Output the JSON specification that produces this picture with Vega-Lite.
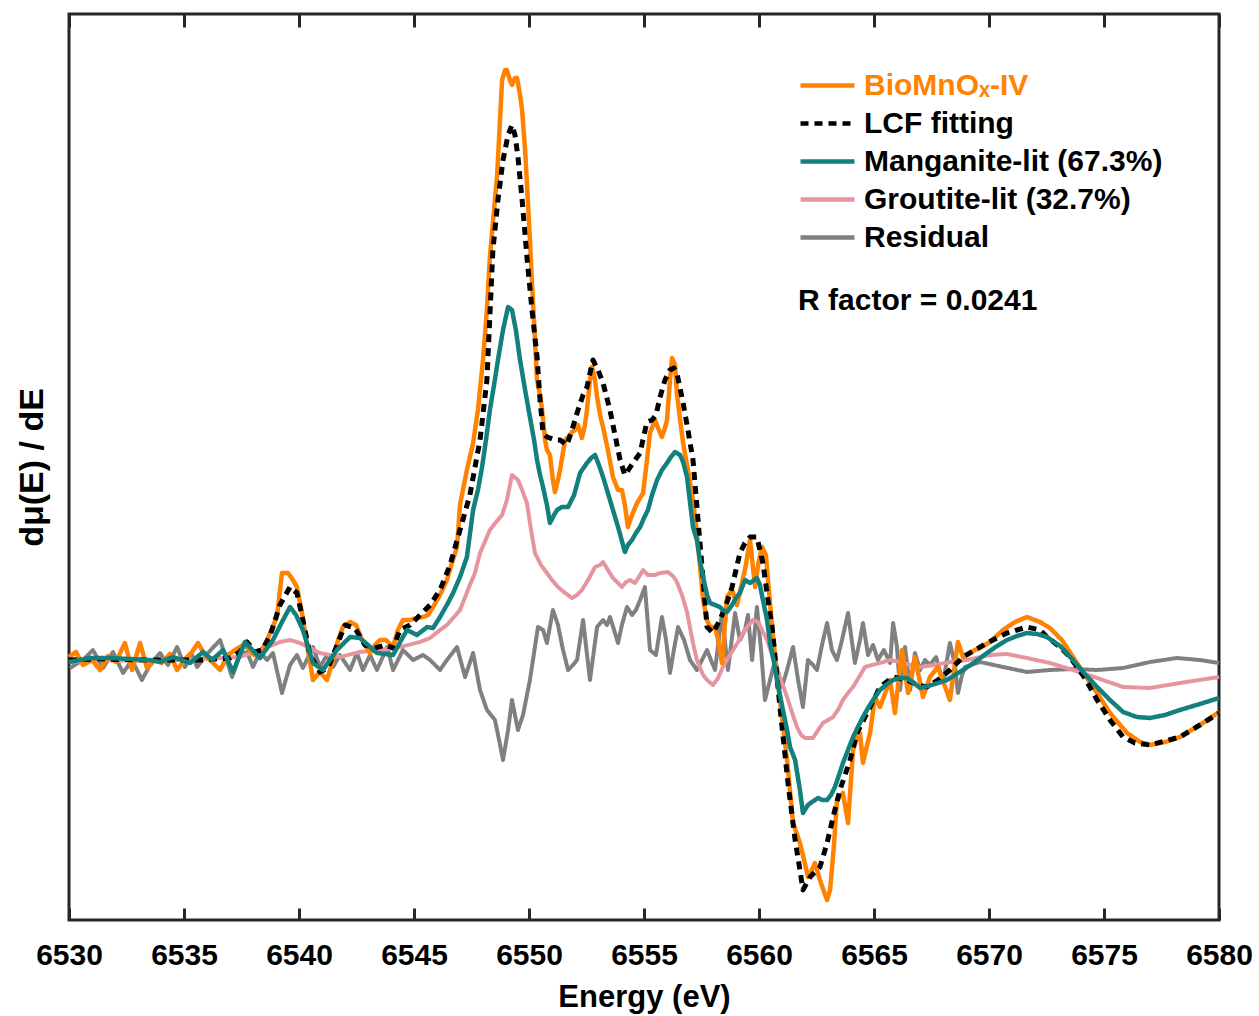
{
  "$schema": "https://vega.github.io/schema/vega-lite/v6.json",
  "width": 1150,
  "height": 906,
  "autosize": {"type": "none"},
  "padding": {"left": 69, "top": 14, "right": 40, "bottom": 96},
  "background": "white",
  "config": {
    "view": {"stroke": "#262626", "strokeWidth": 3},
    "font": "Liberation Sans",
    "axis": {"grid": false},
    "legend": {
      "orient": "none",
      "legendX": 736,
      "legendY": 49,
      "title": null,
      "labelFont": "Liberation Sans",
      "labelFontSize": 30,
      "labelFontWeight": "bold",
      "labelColor": "#000000",
      "labelLimit": 0,
      "labelOffset": 14,
      "symbolType": "M-1.35,0H1.35",
      "symbolSize": 1600,
      "symbolStrokeWidth": 4.5,
      "rowPadding": 0,
      "padding": 0
    }
  },
  "datasets": {
    "O": [
      {"E":6530.00,"v":3},{"E":6530.30,"v":8},{"E":6530.61,"v":-5},{"E":6531.00,"v":0},{"E":6531.35,"v":-10},{"E":6531.70,"v":4},{"E":6532.04,"v":-2},{"E":6532.43,"v":17},{"E":6532.74,"v":-10},{"E":6533.09,"v":17},{"E":6533.39,"v":-8},{"E":6533.74,"v":0},{"E":6534.04,"v":-3},{"E":6534.39,"v":6},{"E":6534.70,"v":-10},{"E":6535.09,"v":2},{"E":6535.35,"v":8},{"E":6535.61,"v":17},{"E":6535.91,"v":5},{"E":6536.22,"v":-2},{"E":6536.57,"v":-10},{"E":6536.91,"v":5},{"E":6537.22,"v":10},{"E":6537.57,"v":15},{"E":6537.78,"v":12},{"E":6538.04,"v":5},{"E":6538.30,"v":8},{"E":6538.52,"v":15},{"E":6538.74,"v":27},{"E":6539.04,"v":43},{"E":6539.26,"v":87},{"E":6539.52,"v":87},{"E":6539.74,"v":80},{"E":6539.91,"v":73},{"E":6540.13,"v":47},{"E":6540.35,"v":15},{"E":6540.61,"v":-20},{"E":6540.91,"v":-12},{"E":6541.22,"v":-20},{"E":6541.48,"v":0},{"E":6541.70,"v":20},{"E":6541.91,"v":33},{"E":6542.22,"v":38},{"E":6542.48,"v":35},{"E":6542.74,"v":20},{"E":6543.09,"v":7},{"E":6543.30,"v":15},{"E":6543.52,"v":20},{"E":6543.78,"v":20},{"E":6544.09,"v":13},{"E":6544.30,"v":30},{"E":6544.52,"v":40},{"E":6544.83,"v":40},{"E":6545.13,"v":42},{"E":6545.39,"v":43},{"E":6545.61,"v":45},{"E":6545.83,"v":53},{"E":6546.13,"v":65},{"E":6546.43,"v":80},{"E":6546.65,"v":97},{"E":6546.87,"v":113},{"E":6547.00,"v":155},{"E":6547.30,"v":190},{"E":6547.57,"v":217},{"E":6547.78,"v":250},{"E":6548.00,"v":300},{"E":6548.17,"v":350},{"E":6548.30,"v":403},{"E":6548.48,"v":450},{"E":6548.61,"v":483},{"E":6548.74,"v":540},{"E":6548.83,"v":580},{"E":6548.96,"v":590},{"E":6549.04,"v":590},{"E":6549.17,"v":580},{"E":6549.26,"v":575},{"E":6549.39,"v":582},{"E":6549.48,"v":582},{"E":6549.61,"v":565},{"E":6549.70,"v":550},{"E":6549.83,"v":510},{"E":6549.91,"v":477},{"E":6550.04,"v":420},{"E":6550.13,"v":377},{"E":6550.26,"v":320},{"E":6550.35,"v":280},{"E":6550.48,"v":265},{"E":6550.57,"v":250},{"E":6550.70,"v":220},{"E":6550.78,"v":210},{"E":6550.91,"v":205},{"E":6551.04,"v":180},{"E":6551.13,"v":168},{"E":6551.26,"v":180},{"E":6551.35,"v":190},{"E":6551.48,"v":208},{"E":6551.57,"v":220},{"E":6551.70,"v":223},{"E":6551.87,"v":228},{"E":6552.00,"v":230},{"E":6552.13,"v":235},{"E":6552.30,"v":222},{"E":6552.43,"v":235},{"E":6552.52,"v":250},{"E":6552.65,"v":280},{"E":6552.74,"v":293},{"E":6552.87,"v":280},{"E":6552.96,"v":263},{"E":6553.09,"v":245},{"E":6553.22,"v":233},{"E":6553.43,"v":210},{"E":6553.65,"v":183},{"E":6553.87,"v":170},{"E":6554.04,"v":170},{"E":6554.17,"v":155},{"E":6554.30,"v":133},{"E":6554.48,"v":145},{"E":6554.70,"v":157},{"E":6554.83,"v":162},{"E":6554.96,"v":167},{"E":6555.13,"v":200},{"E":6555.26,"v":227},{"E":6555.48,"v":240},{"E":6555.61,"v":232},{"E":6555.78,"v":223},{"E":6555.91,"v":232},{"E":6556.00,"v":240},{"E":6556.13,"v":280},{"E":6556.22,"v":302},{"E":6556.35,"v":295},{"E":6556.43,"v":267},{"E":6556.57,"v":240},{"E":6556.70,"v":217},{"E":6556.91,"v":190},{"E":6557.13,"v":160},{"E":6557.30,"v":127},{"E":6557.43,"v":95},{"E":6557.57,"v":60},{"E":6557.74,"v":40},{"E":6557.87,"v":33},{"E":6558.09,"v":33},{"E":6558.22,"v":20},{"E":6558.39,"v":-3},{"E":6558.61,"v":63},{"E":6558.83,"v":70},{"E":6559.04,"v":55},{"E":6559.26,"v":77},{"E":6559.43,"v":95},{"E":6559.61,"v":120},{"E":6559.83,"v":73},{"E":6559.96,"v":95},{"E":6560.13,"v":113},{"E":6560.30,"v":105},{"E":6560.43,"v":70},{"E":6560.57,"v":33},{"E":6560.74,"v":-5},{"E":6560.91,"v":-40},{"E":6561.22,"v":-100},{"E":6561.48,"v":-163},{"E":6561.78,"v":-183},{"E":6561.96,"v":-200},{"E":6562.13,"v":-217},{"E":6562.30,"v":-210},{"E":6562.43,"v":-203},{"E":6562.65,"v":-220},{"E":6562.83,"v":-232},{"E":6562.96,"v":-240},{"E":6563.09,"v":-230},{"E":6563.26,"v":-185},{"E":6563.39,"v":-140},{"E":6563.65,"v":-133},{"E":6563.87,"v":-163},{"E":6564.09,"v":-90},{"E":6564.26,"v":-78},{"E":6564.39,"v":-73},{"E":6564.52,"v":-103},{"E":6564.70,"v":-85},{"E":6564.83,"v":-73},{"E":6565.04,"v":-37},{"E":6565.26,"v":-47},{"E":6565.70,"v":-20},{"E":6565.91,"v":-53},{"E":6566.22,"v":10},{"E":6566.48,"v":-33},{"E":6566.78,"v":3},{"E":6567.13,"v":-37},{"E":6567.43,"v":-17},{"E":6567.78,"v":-7},{"E":6568.30,"v":-40},{"E":6568.65,"v":18},{"E":6568.87,"v":3},{"E":6569.39,"v":10},{"E":6569.61,"v":12},{"E":6570.04,"v":18},{"E":6570.61,"v":30},{"E":6571.13,"v":38},{"E":6571.65,"v":43},{"E":6572.22,"v":38},{"E":6572.65,"v":32},{"E":6573.17,"v":20},{"E":6573.65,"v":3},{"E":6574.17,"v":-15},{"E":6574.70,"v":-33},{"E":6575.26,"v":-53},{"E":6576.00,"v":-73},{"E":6576.57,"v":-82},{"E":6577.00,"v":-85},{"E":6577.65,"v":-82},{"E":6578.30,"v":-77},{"E":6579.17,"v":-65},{"E":6580.00,"v":-52}
    ],
    "F": [
      {"E":6530.00,"v":0},{"E":6531.35,"v":1},{"E":6533.52,"v":0},{"E":6535.70,"v":0},{"E":6537.00,"v":2},{"E":6537.43,"v":8},{"E":6537.74,"v":18},{"E":6538.09,"v":8},{"E":6538.39,"v":10},{"E":6538.74,"v":24},{"E":6539.17,"v":55},{"E":6539.61,"v":73},{"E":6539.91,"v":67},{"E":6540.17,"v":40},{"E":6540.48,"v":5},{"E":6540.91,"v":-12},{"E":6541.26,"v":-8},{"E":6541.57,"v":10},{"E":6542.00,"v":35},{"E":6542.43,"v":32},{"E":6542.87,"v":15},{"E":6543.30,"v":12},{"E":6543.74,"v":15},{"E":6544.09,"v":12},{"E":6544.39,"v":30},{"E":6544.83,"v":35},{"E":6545.26,"v":45},{"E":6545.70,"v":55},{"E":6546.13,"v":70},{"E":6546.57,"v":95},{"E":6547.00,"v":130},{"E":6547.43,"v":165},{"E":6547.87,"v":220},{"E":6548.17,"v":280},{"E":6548.43,"v":410},{"E":6548.65,"v":460},{"E":6548.87,"v":500},{"E":6549.09,"v":525},{"E":6549.26,"v":535},{"E":6549.39,"v":525},{"E":6549.52,"v":503},{"E":6549.70,"v":460},{"E":6549.91,"v":403},{"E":6550.13,"v":350},{"E":6550.35,"v":303},{"E":6550.48,"v":260},{"E":6550.61,"v":227},{"E":6550.78,"v":223},{"E":6550.91,"v":222},{"E":6551.13,"v":220},{"E":6551.35,"v":220},{"E":6551.65,"v":215},{"E":6551.87,"v":230},{"E":6552.09,"v":247},{"E":6552.35,"v":265},{"E":6552.52,"v":273},{"E":6552.78,"v":300},{"E":6553.00,"v":290},{"E":6553.22,"v":277},{"E":6553.52,"v":250},{"E":6553.74,"v":225},{"E":6553.96,"v":200},{"E":6554.17,"v":185},{"E":6554.52,"v":197},{"E":6554.83,"v":207},{"E":6555.00,"v":225},{"E":6555.13,"v":238},{"E":6555.35,"v":240},{"E":6555.52,"v":245},{"E":6555.70,"v":263},{"E":6555.91,"v":280},{"E":6556.13,"v":290},{"E":6556.30,"v":292},{"E":6556.43,"v":287},{"E":6556.70,"v":257},{"E":6556.91,"v":230},{"E":6557.13,"v":200},{"E":6557.35,"v":140},{"E":6557.57,"v":80},{"E":6557.74,"v":33},{"E":6558.00,"v":27},{"E":6558.30,"v":40},{"E":6558.57,"v":55},{"E":6558.83,"v":73},{"E":6559.17,"v":107},{"E":6559.39,"v":117},{"E":6559.61,"v":123},{"E":6559.91,"v":123},{"E":6560.17,"v":97},{"E":6560.39,"v":60},{"E":6560.57,"v":33},{"E":6560.91,"v":-47},{"E":6561.26,"v":-123},{"E":6561.57,"v":-180},{"E":6561.78,"v":-210},{"E":6561.91,"v":-230},{"E":6562.22,"v":-217},{"E":6562.65,"v":-207},{"E":6562.96,"v":-183},{"E":6563.22,"v":-157},{"E":6563.52,"v":-130},{"E":6563.96,"v":-100},{"E":6564.26,"v":-73},{"E":6564.70,"v":-53},{"E":6565.26,"v":-27},{"E":6565.83,"v":-17},{"E":6566.43,"v":-20},{"E":6566.91,"v":-25},{"E":6567.30,"v":-27},{"E":6567.78,"v":-20},{"E":6568.30,"v":-10},{"E":6568.87,"v":3},{"E":6569.39,"v":10},{"E":6569.91,"v":17},{"E":6570.78,"v":27},{"E":6571.65,"v":33},{"E":6572.22,"v":30},{"E":6572.52,"v":23},{"E":6573.09,"v":13},{"E":6573.52,"v":3},{"E":6574.17,"v":-18},{"E":6574.70,"v":-40},{"E":6575.26,"v":-60},{"E":6575.83,"v":-77},{"E":6576.35,"v":-83},{"E":6577.00,"v":-85},{"E":6577.65,"v":-81},{"E":6578.30,"v":-77},{"E":6579.17,"v":-65},{"E":6580.00,"v":-53}
    ],
    "M": [
      {"E":6530.00,"v":-2},{"E":6530.91,"v":2},{"E":6531.78,"v":2},{"E":6532.65,"v":1},{"E":6533.52,"v":0},{"E":6533.96,"v":-2},{"E":6534.52,"v":3},{"E":6535.26,"v":-3},{"E":6535.83,"v":8},{"E":6536.22,"v":0},{"E":6536.70,"v":10},{"E":6537.13,"v":-12},{"E":6537.65,"v":18},{"E":6538.30,"v":2},{"E":6538.87,"v":20},{"E":6539.26,"v":38},{"E":6539.61,"v":53},{"E":6539.87,"v":45},{"E":6540.17,"v":30},{"E":6540.61,"v":-3},{"E":6541.04,"v":-10},{"E":6541.65,"v":10},{"E":6542.22,"v":23},{"E":6542.65,"v":22},{"E":6543.39,"v":7},{"E":6544.09,"v":5},{"E":6544.52,"v":23},{"E":6544.70,"v":30},{"E":6545.13,"v":25},{"E":6545.57,"v":33},{"E":6545.83,"v":32},{"E":6546.13,"v":43},{"E":6546.43,"v":55},{"E":6546.70,"v":67},{"E":6547.00,"v":83},{"E":6547.30,"v":103},{"E":6547.57,"v":150},{"E":6547.78,"v":170},{"E":6547.96,"v":193},{"E":6548.13,"v":220},{"E":6548.30,"v":250},{"E":6548.48,"v":275},{"E":6548.65,"v":300},{"E":6548.87,"v":330},{"E":6549.09,"v":353},{"E":6549.26,"v":350},{"E":6549.43,"v":330},{"E":6549.61,"v":300},{"E":6549.83,"v":270},{"E":6550.04,"v":243},{"E":6550.22,"v":220},{"E":6550.35,"v":200},{"E":6550.48,"v":185},{"E":6550.61,"v":173},{"E":6550.78,"v":155},{"E":6550.91,"v":137},{"E":6551.09,"v":145},{"E":6551.22,"v":150},{"E":6551.43,"v":153},{"E":6551.70,"v":153},{"E":6551.96,"v":165},{"E":6552.22,"v":187},{"E":6552.52,"v":197},{"E":6552.70,"v":202},{"E":6552.87,"v":205},{"E":6553.04,"v":195},{"E":6553.22,"v":183},{"E":6553.43,"v":167},{"E":6553.65,"v":150},{"E":6553.91,"v":130},{"E":6554.17,"v":108},{"E":6554.30,"v":115},{"E":6554.48,"v":120},{"E":6554.65,"v":127},{"E":6554.83,"v":133},{"E":6555.00,"v":142},{"E":6555.17,"v":150},{"E":6555.35,"v":165},{"E":6555.57,"v":180},{"E":6555.78,"v":190},{"E":6556.00,"v":197},{"E":6556.17,"v":203},{"E":6556.35,"v":208},{"E":6556.57,"v":205},{"E":6556.70,"v":198},{"E":6556.87,"v":183},{"E":6557.13,"v":133},{"E":6557.30,"v":120},{"E":6557.43,"v":100},{"E":6557.57,"v":83},{"E":6557.74,"v":65},{"E":6557.87,"v":57},{"E":6558.09,"v":55},{"E":6558.30,"v":53},{"E":6558.43,"v":50},{"E":6558.61,"v":48},{"E":6558.83,"v":55},{"E":6559.00,"v":62},{"E":6559.17,"v":67},{"E":6559.39,"v":80},{"E":6559.61,"v":77},{"E":6559.91,"v":82},{"E":6560.04,"v":75},{"E":6560.17,"v":60},{"E":6560.35,"v":40},{"E":6560.48,"v":17},{"E":6560.65,"v":-2},{"E":6560.78,"v":-20},{"E":6560.91,"v":-35},{"E":6561.04,"v":-50},{"E":6561.22,"v":-70},{"E":6561.35,"v":-87},{"E":6561.57,"v":-100},{"E":6561.78,"v":-130},{"E":6561.91,"v":-153},{"E":6562.13,"v":-145},{"E":6562.30,"v":-142},{"E":6562.57,"v":-138},{"E":6562.74,"v":-140},{"E":6562.96,"v":-140},{"E":6563.13,"v":-135},{"E":6563.30,"v":-127},{"E":6563.48,"v":-115},{"E":6563.65,"v":-103},{"E":6563.87,"v":-90},{"E":6564.09,"v":-77},{"E":6564.30,"v":-67},{"E":6564.52,"v":-57},{"E":6564.74,"v":-48},{"E":6564.96,"v":-40},{"E":6565.26,"v":-30},{"E":6565.57,"v":-24},{"E":6565.83,"v":-20},{"E":6566.13,"v":-18},{"E":6566.43,"v":-18},{"E":6566.74,"v":-23},{"E":6567.00,"v":-28},{"E":6567.35,"v":-26},{"E":6567.65,"v":-24},{"E":6568.17,"v":-20},{"E":6568.52,"v":-15},{"E":6568.87,"v":-10},{"E":6569.39,"v":-2},{"E":6569.91,"v":7},{"E":6570.35,"v":14},{"E":6570.78,"v":20},{"E":6571.22,"v":24},{"E":6571.65,"v":27},{"E":6572.09,"v":26},{"E":6572.52,"v":23},{"E":6573.09,"v":14},{"E":6573.65,"v":0},{"E":6574.17,"v":-14},{"E":6574.70,"v":-27},{"E":6575.26,"v":-40},{"E":6575.83,"v":-52},{"E":6576.43,"v":-57},{"E":6577.00,"v":-58},{"E":6577.65,"v":-55},{"E":6578.30,"v":-50},{"E":6579.17,"v":-44},{"E":6580.00,"v":-38}
    ],
    "G": [
      {"E":6530.00,"v":-2},{"E":6531.35,"v":0},{"E":6533.52,"v":-1},{"E":6535.70,"v":1},{"E":6537.43,"v":3},{"E":6538.30,"v":10},{"E":6539.17,"v":18},{"E":6539.61,"v":20},{"E":6540.04,"v":17},{"E":6540.91,"v":7},{"E":6541.78,"v":3},{"E":6542.65,"v":8},{"E":6543.52,"v":10},{"E":6544.39,"v":13},{"E":6545.26,"v":18},{"E":6545.70,"v":22},{"E":6546.13,"v":30},{"E":6546.43,"v":35},{"E":6546.70,"v":42},{"E":6547.00,"v":50},{"E":6547.43,"v":75},{"E":6547.65,"v":87},{"E":6547.87,"v":107},{"E":6548.30,"v":130},{"E":6548.57,"v":138},{"E":6548.83,"v":145},{"E":6549.04,"v":160},{"E":6549.26,"v":185},{"E":6549.52,"v":180},{"E":6549.70,"v":170},{"E":6549.91,"v":157},{"E":6550.09,"v":130},{"E":6550.26,"v":107},{"E":6550.52,"v":95},{"E":6550.78,"v":87},{"E":6551.00,"v":80},{"E":6551.26,"v":73},{"E":6551.57,"v":67},{"E":6551.87,"v":62},{"E":6552.09,"v":65},{"E":6552.30,"v":70},{"E":6552.57,"v":80},{"E":6552.87,"v":93},{"E":6553.09,"v":95},{"E":6553.22,"v":98},{"E":6553.43,"v":90},{"E":6553.65,"v":82},{"E":6553.87,"v":77},{"E":6554.04,"v":73},{"E":6554.22,"v":78},{"E":6554.39,"v":80},{"E":6554.61,"v":77},{"E":6554.83,"v":85},{"E":6554.96,"v":90},{"E":6555.17,"v":85},{"E":6555.48,"v":85},{"E":6555.70,"v":87},{"E":6556.04,"v":88},{"E":6556.26,"v":84},{"E":6556.43,"v":78},{"E":6556.65,"v":65},{"E":6556.87,"v":48},{"E":6557.13,"v":17},{"E":6557.30,"v":0},{"E":6557.57,"v":-15},{"E":6557.74,"v":-20},{"E":6558.00,"v":-25},{"E":6558.22,"v":-18},{"E":6558.43,"v":-7},{"E":6558.65,"v":2},{"E":6558.87,"v":10},{"E":6559.09,"v":18},{"E":6559.30,"v":27},{"E":6559.52,"v":34},{"E":6559.74,"v":40},{"E":6559.96,"v":38},{"E":6560.13,"v":30},{"E":6560.35,"v":20},{"E":6560.57,"v":5},{"E":6560.78,"v":-10},{"E":6561.00,"v":-23},{"E":6561.22,"v":-37},{"E":6561.43,"v":-52},{"E":6561.65,"v":-67},{"E":6561.83,"v":-75},{"E":6562.00,"v":-78},{"E":6562.35,"v":-78},{"E":6562.57,"v":-70},{"E":6562.78,"v":-63},{"E":6563.00,"v":-60},{"E":6563.22,"v":-57},{"E":6563.43,"v":-50},{"E":6563.65,"v":-40},{"E":6563.87,"v":-33},{"E":6564.09,"v":-27},{"E":6564.35,"v":-17},{"E":6564.61,"v":-7},{"E":6564.91,"v":-5},{"E":6565.26,"v":-3},{"E":6565.70,"v":0},{"E":6566.13,"v":-2},{"E":6566.57,"v":-5},{"E":6567.00,"v":-7},{"E":6567.65,"v":-5},{"E":6568.30,"v":-2},{"E":6569.04,"v":0},{"E":6570.04,"v":5},{"E":6570.78,"v":6},{"E":6571.65,"v":2},{"E":6572.65,"v":-3},{"E":6573.65,"v":-10},{"E":6574.70,"v":-18},{"E":6575.83,"v":-27},{"E":6577.00,"v":-28},{"E":6578.30,"v":-23},{"E":6580.00,"v":-17}
    ],
    "R": [
      {"E":6530.04,"v":-8},{"E":6530.61,"v":0},{"E":6531.04,"v":10},{"E":6531.48,"v":-8},{"E":6531.91,"v":8},{"E":6532.35,"v":-13},{"E":6532.74,"v":0},{"E":6533.17,"v":-20},{"E":6533.52,"v":-5},{"E":6533.96,"v":7},{"E":6534.30,"v":-5},{"E":6534.70,"v":13},{"E":6535.04,"v":-7},{"E":6535.35,"v":5},{"E":6535.57,"v":-7},{"E":6536.04,"v":7},{"E":6536.57,"v":20},{"E":6537.09,"v":-17},{"E":6537.43,"v":5},{"E":6537.74,"v":8},{"E":6538.00,"v":-7},{"E":6538.30,"v":8},{"E":6538.61,"v":0},{"E":6538.87,"v":7},{"E":6539.26,"v":-33},{"E":6539.61,"v":-5},{"E":6539.91,"v":5},{"E":6540.17,"v":-8},{"E":6540.61,"v":13},{"E":6540.91,"v":-7},{"E":6541.22,"v":5},{"E":6541.48,"v":-7},{"E":6541.78,"v":5},{"E":6542.22,"v":-10},{"E":6542.52,"v":7},{"E":6542.78,"v":-10},{"E":6543.09,"v":5},{"E":6543.39,"v":-10},{"E":6543.83,"v":13},{"E":6544.09,"v":-10},{"E":6544.52,"v":10},{"E":6544.96,"v":0},{"E":6545.39,"v":5},{"E":6545.70,"v":0},{"E":6546.13,"v":-10},{"E":6546.43,"v":0},{"E":6546.87,"v":13},{"E":6547.22,"v":-17},{"E":6547.57,"v":7},{"E":6547.87,"v":-30},{"E":6548.17,"v":-50},{"E":6548.52,"v":-60},{"E":6548.70,"v":-80},{"E":6548.87,"v":-100},{"E":6549.09,"v":-70},{"E":6549.26,"v":-40},{"E":6549.52,"v":-70},{"E":6549.74,"v":-55},{"E":6550.04,"v":-20},{"E":6550.39,"v":33},{"E":6550.61,"v":30},{"E":6550.78,"v":17},{"E":6551.04,"v":50},{"E":6551.26,"v":35},{"E":6551.48,"v":10},{"E":6551.70,"v":-10},{"E":6551.91,"v":-5},{"E":6552.09,"v":0},{"E":6552.35,"v":40},{"E":6552.65,"v":-20},{"E":6552.96,"v":33},{"E":6553.22,"v":40},{"E":6553.39,"v":35},{"E":6553.52,"v":43},{"E":6553.70,"v":30},{"E":6553.87,"v":17},{"E":6554.04,"v":35},{"E":6554.26,"v":53},{"E":6554.48,"v":45},{"E":6554.65,"v":50},{"E":6554.83,"v":60},{"E":6555.04,"v":73},{"E":6555.26,"v":10},{"E":6555.52,"v":5},{"E":6555.78,"v":43},{"E":6555.96,"v":20},{"E":6556.13,"v":-13},{"E":6556.30,"v":10},{"E":6556.48,"v":33},{"E":6556.74,"v":20},{"E":6557.00,"v":0},{"E":6557.30,"v":-10},{"E":6557.52,"v":0},{"E":6557.74,"v":10},{"E":6557.91,"v":0},{"E":6558.09,"v":-10},{"E":6558.39,"v":47},{"E":6558.65,"v":-10},{"E":6558.96,"v":47},{"E":6559.17,"v":20},{"E":6559.39,"v":30},{"E":6559.52,"v":45},{"E":6559.70,"v":0},{"E":6559.91,"v":53},{"E":6560.09,"v":10},{"E":6560.26,"v":-40},{"E":6560.48,"v":-20},{"E":6560.70,"v":0},{"E":6561.00,"v":-27},{"E":6561.22,"v":-10},{"E":6561.48,"v":13},{"E":6561.70,"v":-20},{"E":6561.91,"v":-47},{"E":6562.13,"v":0},{"E":6562.35,"v":-5},{"E":6562.52,"v":-10},{"E":6562.74,"v":15},{"E":6562.96,"v":37},{"E":6563.17,"v":10},{"E":6563.39,"v":0},{"E":6563.61,"v":20},{"E":6563.87,"v":47},{"E":6564.17,"v":-3},{"E":6564.39,"v":20},{"E":6564.52,"v":37},{"E":6564.74,"v":5},{"E":6564.96,"v":15},{"E":6565.17,"v":0},{"E":6565.43,"v":10},{"E":6565.70,"v":-3},{"E":6565.83,"v":37},{"E":6566.00,"v":13},{"E":6566.13,"v":-30},{"E":6566.35,"v":13},{"E":6566.57,"v":-30},{"E":6566.78,"v":7},{"E":6567.00,"v":-10},{"E":6567.22,"v":0},{"E":6567.43,"v":-5},{"E":6567.70,"v":3},{"E":6568.00,"v":-23},{"E":6568.30,"v":17},{"E":6568.52,"v":-5},{"E":6568.65,"v":-33},{"E":6568.83,"v":-15},{"E":6568.96,"v":-7},{"E":6569.61,"v":-2},{"E":6570.61,"v":-7},{"E":6571.65,"v":-12},{"E":6572.65,"v":-10},{"E":6573.65,"v":-9},{"E":6574.70,"v":-10},{"E":6575.83,"v":-8},{"E":6577.00,"v":-2},{"E":6578.17,"v":2},{"E":6579.17,"v":0},{"E":6580.00,"v":-3}
    ]
  },
  "resolve": {"axis": {"x": "independent", "y": "independent"}},
  "layer": [
    {
      "data": {"name": "R"},
      "mark": {"type": "line", "strokeWidth": 4, "strokeJoin": "round"},
      "encoding": {
        "x": {"field": "E", "type": "quantitative", "scale": {"domain": [6530, 6580], "nice": false, "zero": false},
          "axis": {"orient": "bottom", "values": [6530,6535,6540,6545,6550,6555,6560,6565,6570,6575,6580], "format": "d", "domain": false, "tickSize": -12, "tickWidth": 3, "tickColor": "#262626", "labelPadding": 32, "labelFont": "Liberation Sans", "labelFontSize": 30, "labelFontWeight": "bold", "labelColor": "#000000", "labelFlush": false, "title": "Energy (eV)", "titleFont": "Liberation Sans", "titleFontSize": 31, "titleFontWeight": "bold", "titleColor": "#000000", "titlePadding": 12}},
        "y": {"field": "v", "type": "quantitative", "scale": {"domain": [-260, 646], "nice": false, "zero": false}, "axis": null},
        "color": {"datum": "Residual", "type": "nominal", "scale": {"domain": ["BioMnOₓ-IV", "LCF fitting", "Manganite-lit (67.3%)", "Groutite-lit (32.7%)", "Residual"], "range": ["#ff8200", "#000000", "#12807c", "#e6959f", "#808080"]},
          "legend": {"encode": {"labels": {"update": {"fill": {"signal": "datum.label == 'BioMnOₓ-IV' ? '#ff8200' : '#000000'"}}}}}},
        "strokeDash": {"datum": "Residual", "type": "nominal", "scale": {"domain": ["BioMnOₓ-IV", "LCF fitting", "Manganite-lit (67.3%)", "Groutite-lit (32.7%)", "Residual"], "range": [[1, 0], [8, 6], [1, 0], [1, 0], [1, 0]]}}
      }
    },
    {
      "data": {"name": "G"},
      "mark": {"type": "line", "strokeWidth": 4, "strokeJoin": "round"},
      "encoding": {
        "x": {"field": "E", "type": "quantitative", "scale": {"domain": [6530, 6580], "nice": false, "zero": false},
          "axis": {"orient": "top", "values": [6530,6535,6540,6545,6550,6555,6560,6565,6570,6575,6580], "domain": false, "labels": false, "tickSize": -13, "tickWidth": 3, "tickColor": "#262626", "title": null}},
        "y": {"field": "v", "type": "quantitative", "scale": {"domain": [-260, 646], "nice": false, "zero": false}, "axis": null},
        "color": {"datum": "Groutite-lit (32.7%)", "type": "nominal"},
        "strokeDash": {"datum": "Groutite-lit (32.7%)", "type": "nominal"}
      }
    },
    {
      "data": {"name": "O"},
      "mark": {"type": "line", "strokeWidth": 4.5, "strokeJoin": "round"},
      "encoding": {
        "x": {"field": "E", "type": "quantitative", "scale": {"domain": [6530, 6580], "nice": false, "zero": false}, "axis": null},
        "y": {"field": "v", "type": "quantitative", "scale": {"domain": [-260, 646], "nice": false, "zero": false},
          "axis": {"orient": "left", "domain": false, "ticks": false, "labels": false, "grid": false, "title": "dμ(E) / dE", "titleFont": "Liberation Sans", "titleFontSize": 34, "titleFontWeight": "bold", "titleColor": "#000000", "titlePadding": 20}},
        "color": {"datum": "BioMnOₓ-IV", "type": "nominal"},
        "strokeDash": {"datum": "BioMnOₓ-IV", "type": "nominal"}
      }
    },
    {
      "data": {"name": "F"},
      "mark": {"type": "line", "strokeWidth": 5, "strokeJoin": "round"},
      "encoding": {
        "x": {"field": "E", "type": "quantitative", "scale": {"domain": [6530, 6580], "nice": false, "zero": false}, "axis": null},
        "y": {"field": "v", "type": "quantitative", "scale": {"domain": [-260, 646], "nice": false, "zero": false}, "axis": null},
        "color": {"datum": "LCF fitting", "type": "nominal"},
        "strokeDash": {"datum": "LCF fitting", "type": "nominal"}
      }
    },
    {
      "data": {"name": "M"},
      "mark": {"type": "line", "strokeWidth": 4.5, "strokeJoin": "round"},
      "encoding": {
        "x": {"field": "E", "type": "quantitative", "scale": {"domain": [6530, 6580], "nice": false, "zero": false}, "axis": null},
        "y": {"field": "v", "type": "quantitative", "scale": {"domain": [-260, 646], "nice": false, "zero": false}, "axis": null},
        "color": {"datum": "Manganite-lit (67.3%)", "type": "nominal"},
        "strokeDash": {"datum": "Manganite-lit (67.3%)", "type": "nominal"}
      }
    },
    {
      "data": {"values": [{"label": "R factor = 0.0241"}]},
      "mark": {"type": "text", "align": "left", "baseline": "middle", "font": "Liberation Sans", "fontSize": 30, "fontWeight": "bold", "fill": "#000000"},
      "encoding": {
        "x": {"datum": 6561.7, "type": "quantitative", "axis": null},
        "y": {"datum": 359, "type": "quantitative", "axis": null},
        "text": {"field": "label", "type": "nominal"}
      }
    }
  ]
}
